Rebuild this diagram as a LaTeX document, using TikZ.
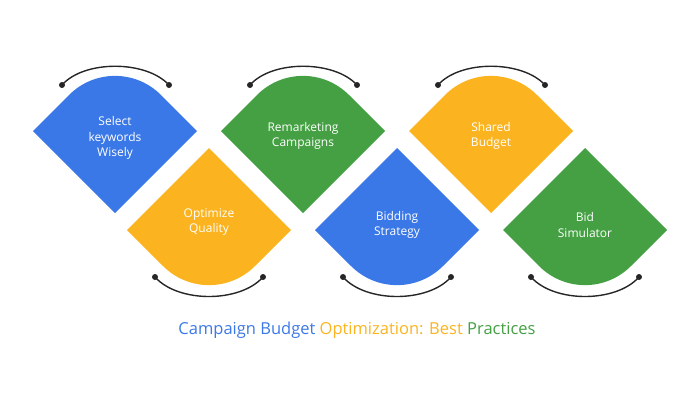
\documentclass[tikz,border=0pt]{standalone}
\usepackage{fontspec}
\setmainfont{Open Sans}
\definecolor{gblue}{HTML}{3B78E7}
\definecolor{gyel}{HTML}{FBB41F}
\definecolor{ggreen}{HTML}{44A042}
\begin{document}
\begin{tikzpicture}[x=1pt,y=-1pt,
  lbl/.style={text=white,font=\fontsize{12}{15.5}\selectfont,align=center},
  arcline/.style={line width=1.4pt,black!85},
  dot/.style={circle,fill=black!85,inner sep=0pt,minimum size=6pt}]
\useasboundingbox (0,0) rectangle (698,400);
\def\h{82}
% upper shapes
\foreach \cx/\col/\nm in {115/gblue/a,303/ggreen/c,491/gyel/e}{
  \fill[\col] (\cx-\h,131) -- (\cx,131+\h) -- (\cx+\h,131) -- (\cx+46,95)
     .. controls (\cx+20.5,69.5) and (\cx-20.5,69.5) .. (\cx-46,95) -- cycle;
  \coordinate (\nm l) at (\cx-53,85); \coordinate (\nm r) at (\cx+54,85);
  \draw[arcline] (\nm l) .. controls (\cx-31,60) and (\cx+31,60) .. (\nm r);
  \node[dot] at (\nm l) {}; \node[dot] at (\nm r) {};
}
% lower shapes
\foreach \cx/\col/\nm in {209/gyel/b,397/gblue/d,585/ggreen/f}{
  \fill[\col] (\cx-\h,230) -- (\cx,230-\h) -- (\cx+\h,230) -- (\cx+46,266)
     .. controls (\cx+20.5,291.5) and (\cx-20.5,291.5) .. (\cx-46,266) -- cycle;
  \coordinate (\nm l) at (\cx-54,277); \coordinate (\nm r) at (\cx+54,277);
  \draw[arcline] (\nm l) .. controls (\cx-31,303) and (\cx+31,303) .. (\nm r);
  \node[dot] at (\nm l) {}; \node[dot] at (\nm r) {};
}
\node[lbl] (t1) at (115,138) {Select\\keywords\\Wisely};
\node[lbl] (t2) at (209,222) {Optimize\\Quality};
\node[lbl] (t3) at (303,136) {Remarketing\\Campaigns};
\node[lbl] (t4) at (397,225) {Bidding\\Strategy};
\node[lbl] (t5) at (491,136) {Shared\\Budget};
\node[lbl] (t6) at (585,225) {Bid\\Simulator};
\node[font=\fontsize{16.5}{19}\selectfont] (title) at (357,330) {\textcolor{gblue}{Campaign Budget} \textcolor{gyel}{Optimization: Best} \textcolor{ggreen}{Practices}};
\end{tikzpicture}
\end{document}
